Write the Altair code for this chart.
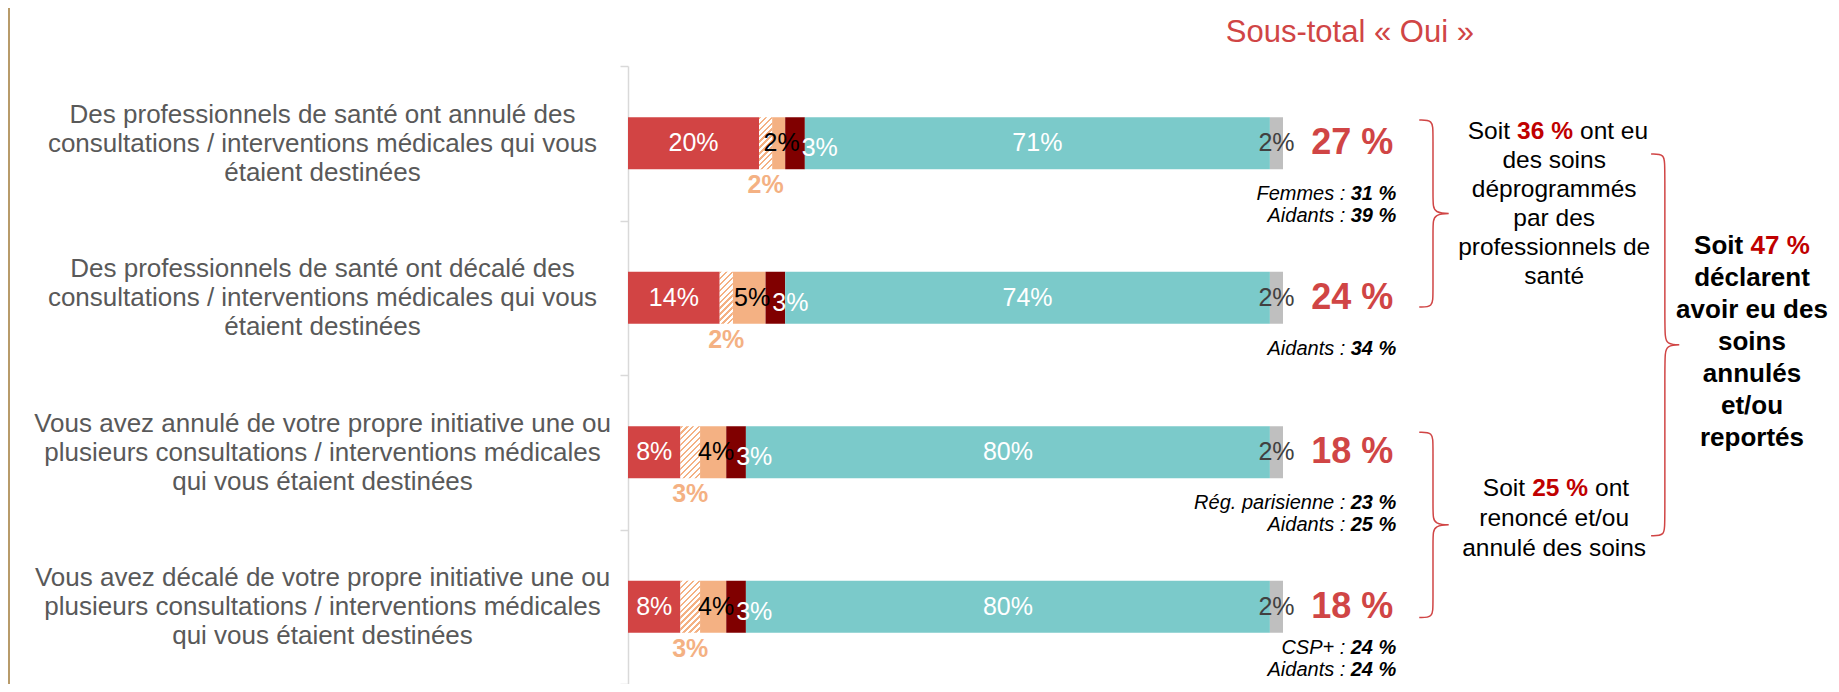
import altair as alt
import pandas as pd
import math

# ---------------- data ----------------
categories = [
    "Des professionnels de santé ont annulé des|consultations / interventions médicales qui vous|étaient destinées",
    "Des professionnels de santé ont décalé des|consultations / interventions médicales qui vous|étaient destinées",
    "Vous avez annulé de votre propre initiative une ou|plusieurs consultations / interventions médicales|qui vous étaient destinées",
    "Vous avez décalé de votre propre initiative une ou|plusieurs consultations / interventions médicales|qui vous étaient destinées",
]
segments = ["Oui (a)", "Oui (b)", "Oui (c)", "Oui (d)", "Non", "NSP"]
oui_a = [20, 14, 8, 8]
oui_b = [2, 2, 3, 3]
oui_c = [2, 5, 4, 4]
oui_d = [3, 3, 3, 3]
non = [71, 74, 80, 80]
nsp = [2, 2, 2, 2]
sous_total = [27, 24, 18, 18]

notes_row = [0, 0, 1, 2, 2, 3, 3]
notes_line = [0, 1, 0, 0, 1, 0, 1]
notes_label = ["Femmes :", "Aidants :", "Aidants :", "Rég. parisienne :", "Aidants :", "CSP+ :", "Aidants :"]
notes_value = ["31 %", "39 %", "34 %", "23 %", "25 %", "24 %", "24 %"]

title_text = "Sous-total « Oui »"
grp36_head = ["Soit", "36 %", "ont eu"]
grp36_lines = ["des soins", "déprogrammés", "par des", "professionnels de", "santé"]
grp25_head = ["Soit", "25 %", "ont"]
grp25_lines = ["renoncé et/ou", "annulé des soins"]
grp47_head = ["Soit", "47 %"]
grp47_lines = ["déclarent", "avoir eu des", "soins", "annulés", "et/ou", "reportés"]

# ---------------- layout / styles ----------------
F = "Liberation Sans, Arial, sans-serif"
PXU = 6.55            # pixels per percentage point
PLOT_W = 1203
PLOT_H = 618
BAR_H = 52
LBL_FS = 25
XMAX = PLOT_W / PXU
XS = alt.Scale(domain=[0, XMAX], nice=False, zero=False)
YA = alt.Scale(domain=[0, 4], reverse=True, nice=False, zero=False)

RED = "#D24444"
DARKRED = "#800000"
PEACH = "#F4B183"
TEAL = "#7BCACA"
GREY = "#BFBFBF"
TXTRED = "#D04545"
VALRED = "#C00000"

seg_colors = {"Oui (a)": RED, "Oui (c)": PEACH, "Oui (d)": DARKRED, "Non": TEAL, "NSP": GREY}

series = [oui_a, oui_b, oui_c, oui_d, non, nsp]
rows = []
for i, cat in enumerate(categories):
    start = 0
    for s, vals in zip(segments, series):
        v = vals[i]
        rows.append(dict(cat=cat, row=i, seg=s, v=v, start=start, end=start + v,
                         mid=start + v / 2, label=f"{v}%"))
        start += v
df = pd.DataFrame(rows)

# label of the dark segment is pushed right so it does not collide with the peach label
def text_w(label, fs=LBL_FS):
    return fs * (0.556 * sum(ch.isdigit() for ch in label) + 0.889)

PEACH_DX = 3
lx = []
for _, r in df.iterrows():
    if r.seg == "Oui (d)":
        c = df[(df.row == r.row) & (df.seg == "Oui (c)")].iloc[0]
        peach_right = c.mid * PXU + PEACH_DX + text_w(c.label) / 2
        px = max(r.mid * PXU + 13, peach_right + 2 + text_w(r.label) / 2)
        lx.append(px / PXU)
    else:
        lx.append(r.mid)
df["lx"] = lx

Y = alt.Y("cat:N", title=None,
          scale=alt.Scale(domain=categories, paddingInner=0, paddingOuter=0),
          axis=alt.Axis(title=None, labelExpr="split(datum.label, '|')", labelAlign="center",
                        labelBaseline="middle", labelPadding=298, labelFontSize=26, labelFont=F,
                        labelColor="#595959", labelLineHeight=29, labelOffset=-29, labelLimit=1000,
                        labelOverlap=False, domainColor="#D9D9D9", domainWidth=1.5,
                        tickColor="#D9D9D9", tickWidth=1.5, tickSize=8, tickBand="extent",
                        grid=False))

def X(field):
    return alt.X(field, scale=XS, axis=None, title=None)

solid = df[df.seg != "Oui (b)"]
bars = alt.Chart(solid).mark_bar(size=BAR_H).encode(
    x=X("start:Q"), x2="end:Q", y=Y,
    color=alt.Color("seg:N", scale=alt.Scale(domain=list(seg_colors), range=list(seg_colors.values())), legend=None),
)

def hatch(w_px, h_px, period=4.3, frac=0.4):
    r = w_px / h_px
    s = (r + 1) / (r * r + 1)
    n = max(1, round(((w_px + h_px) / math.sqrt(2)) / period))
    stops = []
    for k in range(n):
        o0, o1, o2 = k / n, (k + frac) / n, (k + 1) / n
        stops += [alt.GradientStop(offset=o0, color=PEACH), alt.GradientStop(offset=o1, color=PEACH),
                  alt.GradientStop(offset=o1, color="white"), alt.GradientStop(offset=o2, color="white")]
    return alt.LinearGradient(gradient="linear", x1=0, y1=0, x2=s * r, y2=s, stops=stops)

hatch_layers = []
for val in sorted(set(oui_b)):
    sub = df[(df.seg == "Oui (b)") & (df.v == val)]
    hatch_layers.append(alt.Chart(sub).mark_bar(size=BAR_H, fill=hatch(val * PXU, BAR_H), strokeWidth=0).encode(
        x=X("start:Q"), x2="end:Q", y=Y))

def lab(seg, color, dx=0, dy=0, weight="normal"):
    return alt.Chart(df[df.seg == seg]).mark_text(
        font=F, fontSize=LBL_FS, color=color, dx=dx, dy=dy, fontWeight=weight,
        align="center", baseline="middle").encode(x=X("lx:Q"), y=Y, text="label:N")

labels = [
    lab("Oui (a)", "white"),
    lab("Oui (b)", PEACH, dy=42, weight="bold"),
    lab("Oui (c)", "black", dx=PEACH_DX),
    lab("Oui (d)", "white", dy=5),
    lab("Non", "white"),
    lab("NSP", "#404040"),
]

df_sub = pd.DataFrame(dict(cat=categories, t=[f"{v} %" for v in sous_total], x=104.3))
subt = alt.Chart(df_sub).mark_text(font=F, fontSize=36, fontWeight="bold", color=TXTRED,
                                   align="left", baseline="middle").encode(x=X("x:Q"), y=Y, text="t:N")

main = alt.layer(bars, *hatch_layers, *labels, subt)

# ---------------- annotation layer (row units on y) ----------------
def AY():
    return alt.Y("y:Q", scale=YA, axis=None, title=None)

def txt(d, **kw):
    return alt.Chart(pd.DataFrame(d)).mark_text(font=F, baseline="middle", **kw).encode(
        x=X("x:Q"), y=AY(), text="t:N")

# notes under the sub-totals (a row's block is lifted if it would run past the bottom)
X_NOTE = 117.3
NOTE_FS = 20
NOTE_OFF, NOTE_STEP, NOTE_MAX = 0.33, 0.14, 3.91
last_line = {}
for r, l in zip(notes_row, notes_line):
    last_line[r] = max(last_line.get(r, 0), l)
ny = []
for r, l in zip(notes_row, notes_line):
    lift = min(0.0, NOTE_MAX - (r + 0.5 + NOTE_OFF + last_line[r] * NOTE_STEP))
    ny.append(r + 0.5 + NOTE_OFF + l * NOTE_STEP + lift)
notes_v = txt(dict(x=[X_NOTE] * len(ny), y=ny, t=notes_value), fontSize=NOTE_FS, fontStyle="italic",
              fontWeight="bold", color="black", align="right")
notes_l = txt(dict(x=[X_NOTE] * len(ny), y=ny, t=notes_label), fontSize=NOTE_FS, fontStyle="italic",
              color="black", align="right", dx=-51)

title = txt(dict(x=[110.2], y=[-0.215], t=[title_text]), fontSize=31, color=TXTRED, align="center")

# group blocks
b36_y0, b36_dy = 0.427, 0.188
b25_y0, b25_dy = 2.738, 0.194
b47_y0, b47_dy = 1.165, 0.207
X_SMALL, X_BIG = 141.4, 171.6

reg_lines = txt(dict(
    x=[X_SMALL] * (len(grp36_lines) + len(grp25_lines)),
    y=[b36_y0 + (k + 1) * b36_dy for k in range(len(grp36_lines))] + [b25_y0 + (k + 1) * b25_dy for k in range(len(grp25_lines))],
    t=grp36_lines + grp25_lines), fontSize=24.5, color="black", align="center")
head_vals = txt(dict(x=[140.0, 142.3], y=[b36_y0, b25_y0], t=[grp36_head[1], grp25_head[1]]),
                fontSize=24.5, fontWeight="bold", color=VALRED, align="center")
head_lead = txt(dict(x=[140.0, 142.3], y=[b36_y0, b25_y0], t=[grp36_head[0], grp25_head[0]]),
                fontSize=24.5, color="black", align="right", dx=-35)
head_tail = txt(dict(x=[140.0, 142.3], y=[b36_y0, b25_y0], t=[grp36_head[2], grp25_head[2]]),
                fontSize=24.5, color="black", align="left", dx=35)

big_lines = txt(dict(x=[X_BIG] * len(grp47_lines), y=[b47_y0 + (k + 1) * b47_dy for k in range(len(grp47_lines))],
                     t=grp47_lines), fontSize=26, fontWeight="bold", color="black", align="center")
big_val = txt(dict(x=[175.9], y=[b47_y0], t=[grp47_head[1]]), fontSize=26, fontWeight="bold",
              color=VALRED, align="center")
big_lead = txt(dict(x=[175.9], y=[b47_y0], t=[grp47_head[0]]), fontSize=26, fontWeight="bold",
               color="black", align="right", dx=-37)

# braces
def brace_pts(name, x0, x1, x2, top, bot, c=0.08):
    mid = (top + bot) / 2
    pts = [(x0, top), (x1, top), (x1, top + c), (x1, mid - c), (x1, mid), (x2, mid), (x1, mid),
           (x1, mid + c), (x1, bot - c), (x1, bot), (x0, bot)]
    return [dict(b=name, i=k, x=px, y=py) for k, (px, py) in enumerate(pts)]

br = pd.DataFrame(brace_pts("a", 120.8, 122.9, 126.5, 0.35, 1.56)
                  + brace_pts("c", 120.8, 122.9, 126.5, 2.37, 3.57)
                  + brace_pts("b", 156.2, 158.3, 161.6, 0.57, 3.04))
braces = alt.Chart(br).mark_line(interpolate="basis", color=TXTRED, strokeWidth=1.5).encode(
    x=X("x:Q"), y=AY(), detail="b:N", order="i:Q")

gold = alt.Chart(pd.DataFrame(dict(k=[0]))).mark_rect(color="#B89B6A").encode(
    x=alt.value(-620), x2=alt.value(-618), y=alt.value(-58), y2=alt.value(PLOT_H))

annot = alt.layer(braces, title, notes_v, notes_l, reg_lines, head_vals, head_lead, head_tail,
                  big_lines, big_val, big_lead, gold)

chart = alt.layer(main, annot).resolve_scale(y="independent").properties(
    width=PLOT_W, height=PLOT_H,
    autosize=alt.AutoSizeParams(type="none"),
    padding={"left": 620, "top": 58, "right": 0, "bottom": 0},
    background="white",
).configure_view(stroke=None)

chart.save("out.html", embed_options={"renderer": "svg", "actions": False})
